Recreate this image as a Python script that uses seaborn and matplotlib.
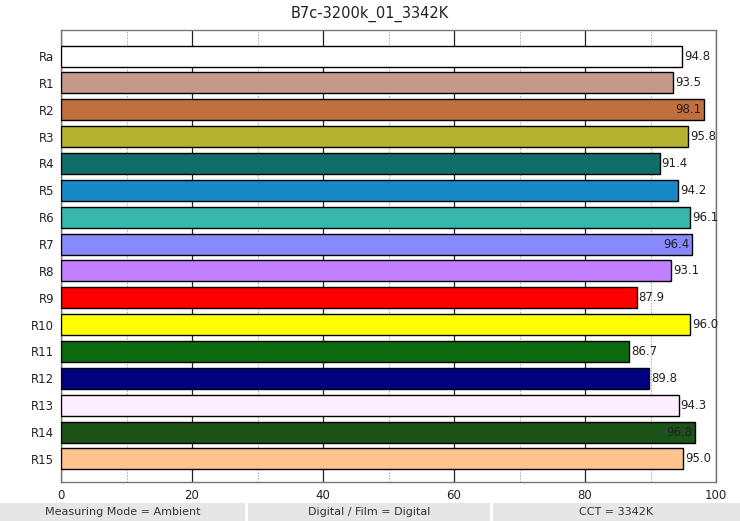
import matplotlib
matplotlib.use("Agg")
import matplotlib.pyplot as plt
import seaborn as sns
import pandas as pd
from matplotlib.ticker import MultipleLocator

categories = ["Ra", "R1", "R2", "R3", "R4", "R5", "R6", "R7", "R8", "R9",
              "R10", "R11", "R12", "R13", "R14", "R15"]
values = [94.8, 93.5, 98.1, 95.8, 91.4, 94.2, 96.1, 96.4, 93.1, 87.9,
          96.0, 86.7, 89.8, 94.3, 96.8, 95.0]
colors = ["#ffffff", "#c4998a", "#c0703f", "#b5b22f", "#0f6e6a", "#1889c6",
          "#36b8ac", "#8888ff", "#c080ff", "#ff0000", "#ffff00", "#0d6b0d",
          "#000080", "#ffeeff", "#1a5218", "#ffc48e"]
title = "B7c-3200k_01_3342K"
footer = ["Measuring Mode = Ambient", "Digital / Film = Digital", "CCT = 3342K"]

sns.set_style("white")
plt.rcParams["font.family"] = ["DejaVu Sans"]

df = pd.DataFrame({"cat": categories, "val": values})
fig = plt.figure(figsize=(7.40, 5.21), dpi=100)
ax = fig.add_axes([61/740, 1-482/521, (716-61)/740, (482-30)/521])

sns.barplot(data=df, y="cat", x="val", hue="cat", palette=colors, orient="h",
            order=categories, hue_order=categories, legend=False, saturation=1,
            edgecolor="black", linewidth=1.0, width=0.78, ax=ax, zorder=3)

ax.set_xlim(0, 100)
ax.set_ylim(15.86, -0.97)
ax.xaxis.set_major_locator(MultipleLocator(20))
ax.xaxis.set_minor_locator(MultipleLocator(10))
ax.grid(which="major", axis="x", color="#222222", linewidth=0.9, zorder=0)
ax.grid(which="minor", axis="x", color="#aaaaaa", linewidth=0.7, linestyle=(0, (1.5, 1.5)), zorder=0)
ax.set_axisbelow(True)
ax.set_xlabel("")
ax.set_ylabel("")
ax.tick_params(axis="x", which="both", length=0, labelsize=8.5, pad=5, colors="#222222")
ax.tick_params(axis="y", length=0, labelsize=8.5, pad=5, colors="#222222")
for s in ax.spines.values():
    s.set_color("#777777")
    s.set_linewidth(1.0)

for i, v in enumerate(values):
    if v > 96.2:
        ax.text(v - 0.4, i, f"{v:.1f}", ha="right", va="center", fontsize=8.5, color="#222222", zorder=5)
    else:
        ax.text(v + 0.3, i, f"{v:.1f}", ha="left", va="center", fontsize=8.5, color="#222222", zorder=5)

fig.text(0.5, 1-14/521, title, ha="center", va="center", fontsize=10.5, color="#222222")

boxes = [(0, 245), (248, 490), (493, 740)]
for (x0, x1), t in zip(boxes, footer):
    fig.patches.append(plt.Rectangle((x0/740, 0), (x1-x0)/740, 18/521,
                                     transform=fig.transFigure, facecolor="#e6e6e6",
                                     edgecolor="none"))
    fig.text((x0+x1)/2/740, 9/521, t, ha="center", va="center", fontsize=8, color="#333333")

fig.savefig("out.png", dpi=100, facecolor="white")
